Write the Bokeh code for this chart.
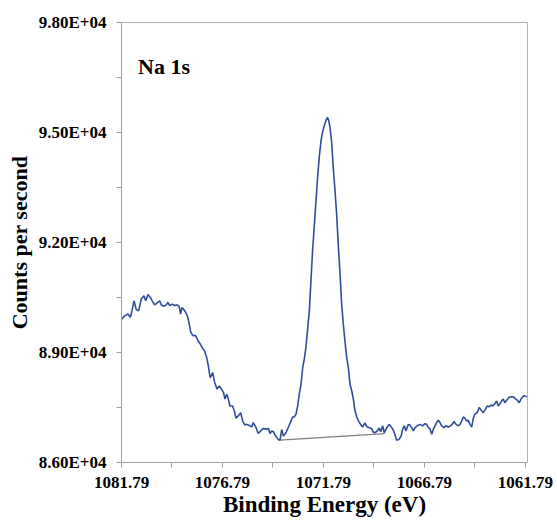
from bokeh.plotting import figure
from bokeh.models import Range1d, FixedTicker, CustomJSTickFormatter, Label
from bokeh.embed import file_html
from bokeh.resources import INLINE

# Binding energy (eV) and counts per second
energy = [1081.79, 1081.63, 1081.47, 1081.35, 1081.27, 1081.17, 1081.06, 1080.94, 1080.81, 1080.68,
          1080.59, 1080.48, 1080.36, 1080.27, 1080.15, 1080.03, 1079.90, 1079.82, 1079.70, 1079.57,
          1079.49, 1079.40, 1079.29, 1079.16, 1079.03, 1078.94, 1078.86, 1078.80, 1078.66, 1078.53,
          1078.45, 1078.36, 1078.25, 1078.12, 1078.00, 1077.90, 1077.78, 1077.67, 1077.58, 1077.50,
          1077.40, 1077.27, 1077.19, 1077.06, 1076.95, 1076.82, 1076.74, 1076.67, 1076.58, 1076.50,
          1076.42, 1076.29, 1076.21, 1076.12, 1076.01, 1075.89, 1075.79, 1075.68, 1075.59, 1075.43,
          1075.34, 1075.27, 1075.13, 1075.02, 1074.90, 1074.77, 1074.64, 1074.52, 1074.44, 1074.35,
          1074.27, 1074.16, 1074.03, 1073.94, 1073.86, 1073.77, 1073.65, 1073.53, 1073.41, 1073.32,
          1073.24, 1073.15, 1073.07, 1072.99, 1072.90, 1072.82, 1072.74, 1072.66, 1072.57, 1072.49,
          1072.41, 1072.33, 1072.25, 1072.16, 1072.08, 1072.00, 1071.91, 1071.85, 1071.77, 1071.68,
          1071.60, 1071.53, 1071.47, 1071.38, 1071.31, 1071.22, 1071.14, 1071.06, 1070.97, 1070.89,
          1070.81, 1070.73, 1070.64, 1070.56, 1070.48, 1070.39, 1070.31, 1070.23, 1070.13, 1070.03,
          1069.93, 1069.85, 1069.74, 1069.65, 1069.52, 1069.40, 1069.33, 1069.24, 1069.13, 1069.03,
          1068.96, 1068.86, 1068.78, 1068.66, 1068.53, 1068.41, 1068.30, 1068.17, 1068.05, 1067.95,
          1067.87, 1067.79, 1067.71, 1067.59, 1067.51, 1067.42, 1067.34, 1067.26, 1067.15, 1067.01,
          1066.88, 1066.77, 1066.68, 1066.60, 1066.52, 1066.43, 1066.35, 1066.27, 1066.19, 1066.11,
          1066.02, 1065.94, 1065.83, 1065.73, 1065.61, 1065.49, 1065.39, 1065.33, 1065.23, 1065.12,
          1065.03, 1064.95, 1064.87, 1064.79, 1064.70, 1064.62, 1064.54, 1064.45, 1064.37, 1064.29,
          1064.18, 1064.08, 1063.96, 1063.88, 1063.80, 1063.68, 1063.58, 1063.50, 1063.41, 1063.30,
          1063.22, 1063.14, 1063.05, 1062.97, 1062.89, 1062.81, 1062.72, 1062.61, 1062.51, 1062.39,
          1062.31, 1062.20, 1062.10, 1062.01, 1061.93, 1061.85, 1061.73]

counts = [89910, 90000, 90050, 89960, 90140, 90410, 90170, 90140, 90460, 90550,
          90410, 90580, 90500, 90410, 90300, 90350, 90410, 90300, 90260, 90300,
          90370, 90280, 90320, 90280, 90300, 90260, 90050, 90230, 90140, 90000,
          89820, 89550, 89460, 89460, 89320, 89240, 89120, 89030, 88880, 88660,
          88310, 88450, 88210, 88000, 88090, 87980, 87910, 87730, 87860, 87730,
          87540, 87540, 87410, 87210, 87270, 87360, 87130, 87020, 87040, 87000,
          86970, 87090, 86950, 86790, 86860, 86930, 86910, 86930, 86790, 86860,
          86840, 86720, 86630, 86610, 86900, 86720, 86810, 86960, 87120, 87240,
          87240, 87320, 87540, 87860, 88140, 88590, 88820, 89140, 89680, 90140,
          90960, 91780, 92420, 93150, 93780, 94330, 94790, 94970, 95150, 95310,
          95410, 95330, 95150, 94700, 94060, 93420, 92780, 91960, 91140, 90320,
          89780, 89320, 88860, 88590, 88140, 87950, 87730, 87410, 87220, 87110,
          87020, 86970, 87080, 86980, 86950, 86920, 86830, 86810, 86860, 86940,
          86840, 87000, 86810, 86950, 87040, 86950, 86840, 86610, 86630, 86720,
          86910, 87000, 86860, 87040, 87020, 86950, 86860, 86950, 87000, 87040,
          87000, 87060, 87040, 86950, 86920, 86770, 86910, 87000, 87090, 87150,
          87090, 87000, 86950, 87000, 86970, 87000, 87060, 87120, 87040, 87000,
          87040, 87130, 87240, 87210, 87130, 87150, 87040, 86970, 87220, 87320,
          87360, 87500, 87410, 87360, 87430, 87540, 87520, 87570, 87540, 87610,
          87680, 87540, 87610, 87680, 87730, 87630, 87700, 87770, 87790, 87790,
          87750, 87700, 87630, 87730, 87790, 87820, 87790]

baseline_energy = [1073.94, 1068.77]
baseline_counts = [86610, 86790]

x_ticks = [1081.79, 1076.79, 1071.79, 1066.79, 1061.79]
x_minor_ticks = [1079.29, 1074.29, 1069.29, 1064.29]
y_ticks = [86000, 89000, 92000, 95000, 98000]
y_minor_ticks = [87500, 90500, 93500, 96500]

FONT = "Liberation Serif"

p = figure(width=557, height=520, output_backend="svg", toolbar_location=None,
           x_range=Range1d(1081.79, 1061.69), y_range=Range1d(86000, 98000),
           min_border_left=121, min_border_right=30, min_border_top=22, min_border_bottom=58,
           background_fill_color="white", border_fill_color="white",
           outline_line_color="#b4b4b4", outline_line_width=1)

p.xgrid.visible = False
p.ygrid.visible = False

p.line(baseline_energy, baseline_counts, line_color="#7f7f7f", line_width=1.3)
p.line(energy, counts, line_color="#2E4D9C", line_width=1.6)

p.xaxis.ticker = FixedTicker(ticks=x_ticks, minor_ticks=x_minor_ticks)
p.yaxis.ticker = FixedTicker(ticks=y_ticks, minor_ticks=y_minor_ticks)
p.xaxis.formatter = CustomJSTickFormatter(code="return tick.toFixed(2);")
p.yaxis.formatter = CustomJSTickFormatter(code="""
const s = tick.toExponential(2).split('e');
const e = parseInt(s[1]);
return s[0] + 'E' + (e < 0 ? '-' : '+') + String(Math.abs(e)).padStart(2, '0');
""")

for ax in (p.xaxis, p.yaxis):
    ax.axis_line_color = "#a0a0a0"
    ax.major_tick_line_color = "#a0a0a0"
    ax.minor_tick_line_color = "#a0a0a0"
    ax.major_tick_in = 0
    ax.major_tick_out = 5
    ax.minor_tick_in = 0
    ax.minor_tick_out = 5
    ax.major_label_text_font = FONT
    ax.major_label_text_font_style = "bold"
    ax.major_label_text_font_size = "17px"
    ax.major_label_text_color = "black"
    ax.axis_label_text_font = FONT
    ax.axis_label_text_font_style = "bold"
    ax.axis_label_text_color = "black"

p.xaxis.axis_label = "Binding Energy (eV)"
p.xaxis.axis_label_text_font_size = "23px"
p.xaxis.major_label_standoff = 9
p.xaxis.axis_label_standoff = 1

p.yaxis.axis_label = "Counts per second"
p.yaxis.axis_label_text_font_size = "22px"
p.yaxis.major_label_standoff = 10
p.yaxis.axis_label_standoff = 4

p.add_layout(Label(x=1080.97, y=96810, text="Na 1s", text_font=FONT,
                   text_font_style="bold", text_font_size="22px",
                   text_baseline="alphabetic", text_color="black"))

open("out.html", "w").write(file_html(p, INLINE))
